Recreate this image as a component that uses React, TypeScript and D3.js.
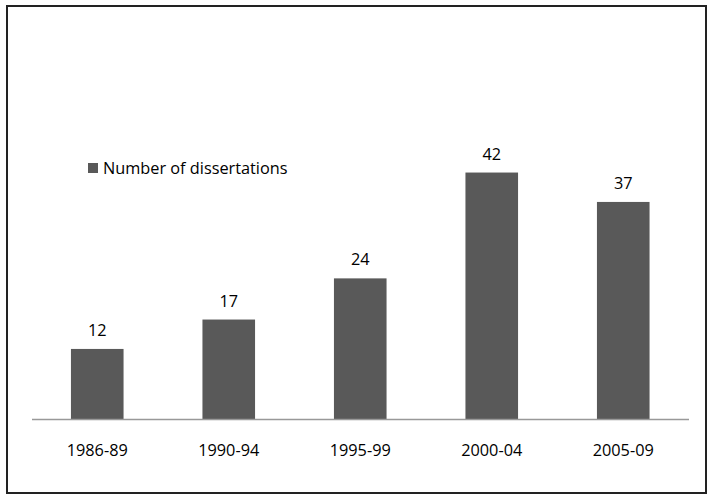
import { useEffect, useRef } from "react";
import * as d3 from "d3";

const WIDTH = 713;
const HEIGHT = 500;

const categories = ["1986-89", "1990-94", "1995-99", "2000-04", "2005-09"];
const values = [12, 17, 24, 42, 37];
const seriesName = "Number of dissertations";

const BAR_COLOR = "#595959";
const FONT = "'Open Sans', 'Noto Sans', sans-serif";
const FONT_SIZE = 16.3;

export default function App() {
  const svgRef = useRef<SVGSVGElement>(null);

  useEffect(() => {
    if (!svgRef.current) return;
    const svg = d3.select(svgRef.current);
    svg.selectAll("*").remove();

    const x = d3
      .scaleBand<string>()
      .domain(categories)
      .range([31.5, 689])
      .paddingInner(0.6)
      .paddingOuter(0.3);

    const y = d3.scaleLinear().domain([0, 45]).range([419.5, 154.9]);

    // outer frame
    svg
      .append("rect")
      .attr("x", 7)
      .attr("y", 6)
      .attr("width", 699)
      .attr("height", 487)
      .attr("fill", "white")
      .attr("stroke", "#222")
      .attr("stroke-width", 2);

    const data = categories.map((c, i) => ({ c, v: values[i] }));

    svg
      .append("g")
      .selectAll("rect")
      .data(data)
      .join("rect")
      .attr("x", (d) => x(d.c)!)
      .attr("y", (d) => y(d.v))
      .attr("width", x.bandwidth())
      .attr("height", (d) => y(0) - y(d.v))
      .attr("fill", BAR_COLOR);

    // baseline
    svg
      .append("line")
      .attr("x1", 32)
      .attr("x2", 689)
      .attr("y1", y(0))
      .attr("y2", y(0))
      .attr("stroke", "#999")
      .attr("stroke-width", 1.5);

    // value labels
    svg
      .append("g")
      .selectAll("text")
      .data(data)
      .join("text")
      .attr("x", (d) => x(d.c)! + x.bandwidth() / 2)
      .attr("y", (d) => y(d.v) - 13)
      .attr("text-anchor", "middle")
      .attr("font-family", FONT)
      .attr("font-size", FONT_SIZE)
      .attr("fill", "#000")
      .text((d) => d.v);

    // category axis labels
    svg
      .append("g")
      .selectAll("text")
      .data(categories)
      .join("text")
      .attr("x", (c) => x(c)! + x.bandwidth() / 2)
      .attr("y", 456)
      .attr("text-anchor", "middle")
      .attr("font-family", FONT)
      .attr("font-size", FONT_SIZE)
      .attr("fill", "#000")
      .text((c) => c);

    // legend
    const lg = svg.append("g").attr("transform", "translate(88,163)");
    lg.append("rect").attr("width", 10).attr("height", 10).attr("fill", BAR_COLOR);
    lg.append("text")
      .attr("x", 15)
      .attr("y", 11)
      .attr("font-family", FONT)
      .attr("font-size", FONT_SIZE)
      .attr("fill", "#000")
      .text(seriesName);
  }, []);

  return (
    <svg
      ref={svgRef}
      width={WIDTH}
      height={HEIGHT}
      style={{ position: "absolute", left: 0, top: 0, background: "white" }}
    />
  );
}
